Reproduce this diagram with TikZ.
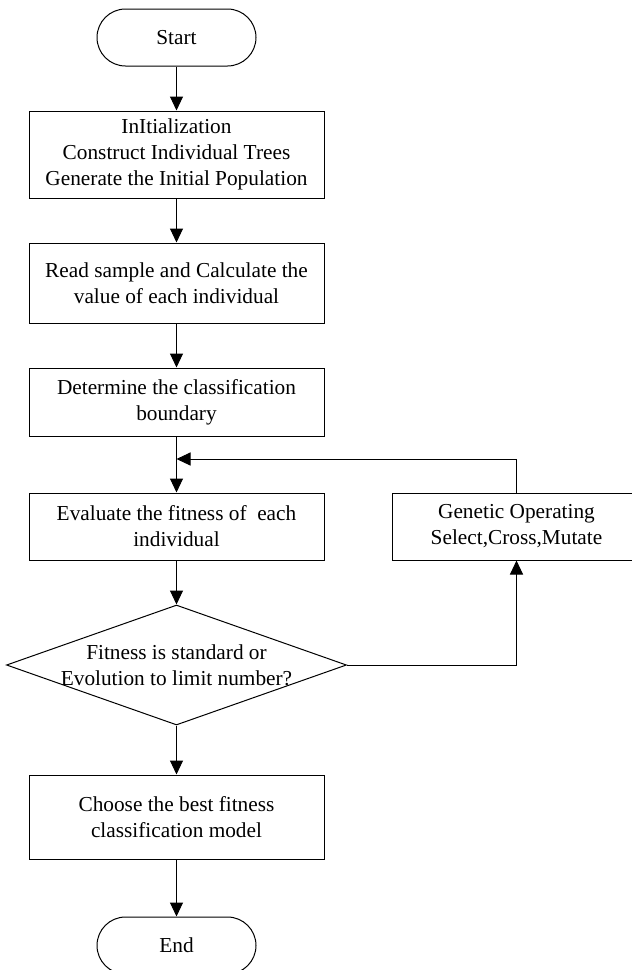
\documentclass[tikz,border=0pt]{standalone}
\usepackage{fontspec}
\setmainfont{Liberation Serif}
\usetikzlibrary{arrows.meta,shapes.geometric}

\begin{document}
\begin{tikzpicture}[x=1pt,y=-1pt,line width=1pt,>={Triangle[length=14pt,width=13pt]},font=\fontsize{21.3}{26}\selectfont,
term/.style n args={2}{draw,rectangle,rounded corners=28.5pt,minimum width=#1pt,minimum height=#2pt,inner sep=0pt},
proc/.style n args={2}{draw,rectangle,minimum width=#1pt,minimum height=#2pt,align=center,inner sep=0pt},
test/.style n args={2}{draw,diamond,minimum width=#1pt,minimum height=#2pt,inner sep=0pt}]
\useasboundingbox (0,0) rectangle (632,970);
\node[term={159}{57}](start) at(176.5,37.5) {Start};
\node[proc={295}{87}](init) at(176.5,154.5) {InItialization\\Construct Individual Trees\\Generate the Initial Population};
\node[proc={295}{80}](read) at(176.5,283) {Read sample and Calculate the\\value of each individual};
\node[proc={295}{68}](bound) at(176.5,402) {Determine the classification\\boundary};
\node[proc={295}{67}](eval) at(176.5,526.5) {Evaluate the fitness of~~each\\individual};
\node[proc={249}{67}](genop) at(516.5,526.5) {Genetic Operating\\Select,Cross,Mutate};
\node[test={340}{120},label={[align=center]center:Fitness is standard or\\Evolution to limit number?}](chk) at(176.5,665) {};
\node[proc={295}{84}](best) at(176.5,817) {Choose the best fitness\\classification model};
\node[term={159}{57}](stop) at(176.5,945.5) {End};
\coordinate (loop) at (176.5,459);
\draw[->] (start) -- (init);
\draw[->] (init) -- (read);
\draw[->] (read) -- (bound);
\draw[->] (bound) -- (eval);
\draw[->] (eval) -- (chk);
\draw[->] (chk) -- (best);
\draw[->] (best) -- (stop);
\draw[->] (chk.east) -| (genop.south);
\draw[->] (genop.north) |- (loop);
\end{tikzpicture}
\end{document}
